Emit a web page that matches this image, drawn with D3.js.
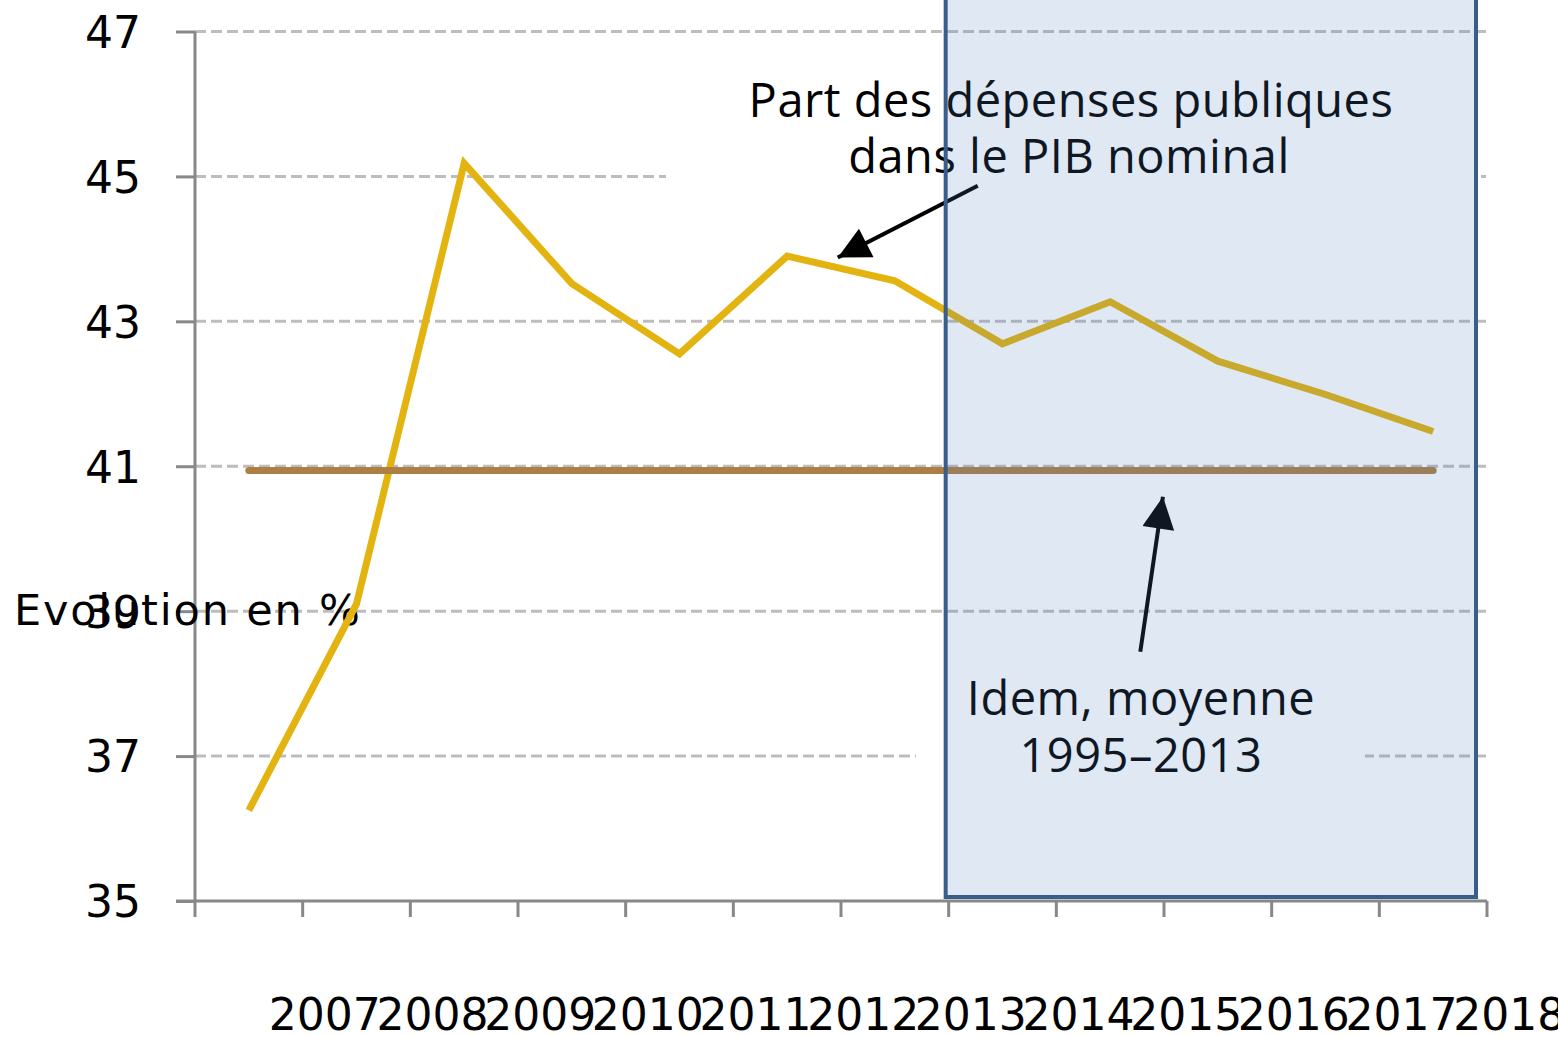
<html>
<head>
<meta charset="utf-8">
<style>
  body { margin: 0; background: #fff; }
  svg { display: block; }
</style>
</head>
<body>
<script src="https://d3js.org/d3.v7.min.js"></script>
<script>
// données
var years = ['2007', '2008', '2009', '2010', '2011', '2012', '2013', '2014', '2015', '2016', '2017', '2018'];
var depenses = [36.25, 39.1, 45.18, 43.52, 42.55, 43.9, 43.56, 42.69, 43.27, 42.45, 41.99, 41.48];
var moyenne = 40.94;
var yTicks = [35, 37, 39, 41, 43, 45, 47];
var projStart = '2014', projEnd = '2018';

var width = 1558, height = 1037;

var svg = d3.select('body').append('svg')
    .attr('width', width)
    .attr('height', height);

// échelles
var x = d3.scaleBand().domain(years).range([195, 1487]).padding(0);
var y = d3.scaleLinear().domain([35, 47]).range([901, 31.5]);
var step = x.step();
var px = t => x.range()[0] + t * step; // position fractionnaire (annotations)
var cx = d => x(d) + step / 2;

// masque pour couper la grille sous les étiquettes
var mask = svg.append('defs').append('mask').attr('id', 'gridmask');
mask.append('rect').attr('width', width).attr('height', height).attr('fill', '#fff');
mask.append('rect').attr('x', 666).attr('y', 60).attr('width', 815).attr('height', 135).attr('fill', '#000');
mask.append('rect').attr('x', 916).attr('y', 665).attr('width', 449).attr('height', 125).attr('fill', '#000');

// grille
svg.append('g').attr('mask', 'url(#gridmask)')
    .selectAll('line')
    .data(yTicks.slice(1))
    .enter().append('line')
    .attr('x1', x.range()[0]).attr('x2', x.range()[1])
    .attr('y1', d => y(d)).attr('y2', d => y(d))
    .attr('stroke', '#bdbdbd')
    .attr('stroke-width', 3)
    .attr('stroke-dasharray', '11,5');

// axe Y
var yAxis = svg.append('g')
    .attr('transform', `translate(${x.range()[0]},0)`)
    .call(d3.axisLeft(y).tickValues(yTicks).tickSize(19).tickPadding(0).tickFormat(d3.format('d')));
yAxis.select('.domain').remove();
yAxis.selectAll('.tick line').attr('stroke', '#888').attr('stroke-width', 3);
yAxis.selectAll('.tick text')
    .attr('x', -54)
    .attr('dy', '0.36em')
    .attr('fill', '#000')
    .style('font-family', 'DejaVu Sans')
    .style('font-size', '44px');
yAxis.append('line')
    .attr('x1', 0).attr('x2', 0)
    .attr('y1', y(47)).attr('y2', y(35))
    .attr('stroke', '#888').attr('stroke-width', 3);

// axe X
var xg = svg.append('g').attr('transform', `translate(0,${y(35)})`);
xg.append('line')
    .attr('x1', 176).attr('x2', x.range()[1])
    .attr('stroke', '#888').attr('stroke-width', 3);
xg.selectAll('line.tick')
    .data(years.concat(['end']))
    .enter().append('line').attr('class', 'tick')
    .attr('x1', (d, i) => px(i)).attr('x2', (d, i) => px(i))
    .attr('y1', 0).attr('y2', 16)
    .attr('stroke', '#888').attr('stroke-width', 3);
xg.selectAll('text')
    .data(years)
    .enter().append('text')
    .attr('x', d => cx(d) + 76)
    .attr('y', 129)
    .attr('text-anchor', 'middle')
    .style('font-family', 'DejaVu Sans')
    .style('font-size', '44px')
    .attr('fill', '#000')
    .text(d => d);

// titre axe
svg.append('text')
    .attr('x', 14).attr('y', 625)
    .style('font-family', 'DejaVu Sans')
    .style('font-size', '43px')
    .style('letter-spacing', '1.8px')
    .attr('fill', '#000')
    .text('Evolution en %');

// courbes
var line = d3.line().x((d, i) => cx(years[i])).y(d => y(d));
svg.append('path')
    .datum(depenses)
    .attr('d', line)
    .attr('fill', 'none')
    .attr('stroke', '#e3b30f')
    .attr('stroke-width', 7)
    .attr('stroke-linejoin', 'miter');

svg.append('line')
    .attr('x1', cx(years[0])).attr('x2', cx(years[years.length - 1]))
    .attr('y1', y(moyenne)).attr('y2', y(moyenne))
    .attr('stroke', '#ad7f45')
    .attr('stroke-width', 7)
    .attr('stroke-linecap', 'round');

// annotations
var annFont = "'Open Sans'";
var t1 = svg.append('text')
    .attr('text-anchor', 'middle')
    .style('font-family', annFont)
    .style('font-size', '47px')
    .style('letter-spacing', '0.5px')
    .attr('fill', '#000');
t1.append('tspan').attr('x', 1071).attr('y', 117).text('Part des dépenses publiques');
t1.append('tspan').attr('x', 1069).attr('y', 173).text('dans le PIB nominal');

var t2 = svg.append('text')
    .attr('text-anchor', 'middle')
    .style('font-family', annFont)
    .style('font-size', '47px')
    .style('letter-spacing', '0.5px')
    .attr('fill', '#000');
t2.append('tspan').attr('x', 1141).attr('y', 715).text('Idem, moyenne');
t2.append('tspan').attr('x', 1141).attr('y', 772).text('1995–2013');

svg.select('defs').append('marker')
    .attr('id', 'head')
    .attr('viewBox', '0 0 10 10')
    .attr('refX', 10).attr('refY', 5)
    .attr('markerUnits', 'userSpaceOnUse')
    .attr('markerWidth', 38).attr('markerHeight', 32)
    .attr('orient', 'auto')
    .append('path').attr('d', 'M0,0 L10,5 L0,10 Z').attr('fill', '#000');

var arrows = [
    { from: [7.27, 44.87], to: [5.97, 43.88] },
    { from: [8.78, 38.44], to: [8.99, 40.58] }
];
svg.selectAll('line.arrow')
    .data(arrows)
    .enter().append('line').attr('class', 'arrow')
    .attr('x1', d => px(d.from[0])).attr('y1', d => y(d.from[1]))
    .attr('x2', d => px(d.to[0])).attr('y2', d => y(d.to[1]))
    .attr('stroke', '#000')
    .attr('stroke-width', 4)
    .attr('marker-end', 'url(#head)');

// zone de projection (par-dessus, semi-transparente)
svg.append('rect')
    .attr('x', x(projStart) - 3)
    .attr('y', -20)
    .attr('width', x(projEnd) + step - 11 - (x(projStart) - 3))
    .attr('height', 897 + 20)
    .attr('fill', '#4f81bd')
    .attr('fill-opacity', 0.18)
    .attr('stroke', '#3a5e8c')
    .attr('stroke-width', 4);
</script>
</body>
</html>
